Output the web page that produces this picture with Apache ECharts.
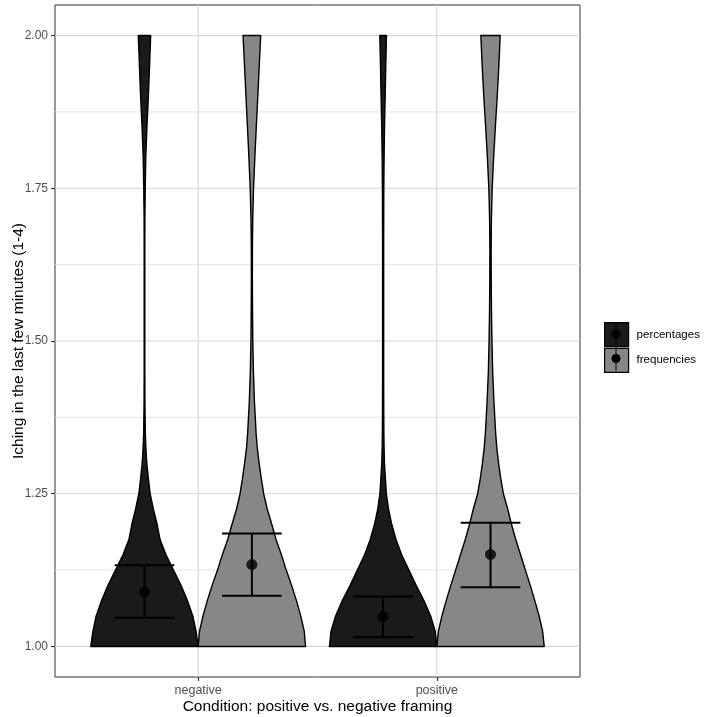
<!DOCTYPE html>
<html>
<head>
<meta charset="utf-8">
<script src="https://cdn.jsdelivr.net/npm/echarts@6.0.0/dist/echarts.min.js"></script>
<style>
  html, body { margin: 0; padding: 0; background: #fff; }
  #main { width: 709px; height: 717px; }
</style>
</head>
<body>
<div id="main"></div>
<script>
// categories
var conditions = ['negative', 'positive'];
var groups = ['percentages', 'frequencies'];
var fills = ['#1a1a1a', '#878787'];

// y levels where the violin width was read (item scale)
var densityY = [1.000, 1.025, 1.050, 1.075, 1.100, 1.125, 1.150, 1.175, 1.200, 1.225,
                1.250, 1.275, 1.300, 1.325, 1.350, 1.400, 1.450, 1.500, 1.550, 1.600,
                1.650, 1.700, 1.750, 1.800, 1.850, 1.900, 1.950, 2.000];
// relative half widths (1 = widest violin)
var densNegPct  = [1.00, 0.96, 0.90, 0.80, 0.68, 0.54, 0.40, 0.29, 0.235, 0.165,
                   0.105, 0.072, 0.043, 0.026, 0.015, 0.008, 0.006, 0.006, 0.006, 0.006,
                   0.006, 0.007, 0.014, 0.024, 0.045, 0.072, 0.094, 0.115];
var densNegFreq = [1.00, 0.975, 0.91, 0.83, 0.74, 0.64, 0.55, 0.45, 0.37, 0.285,
                   0.22, 0.175, 0.135, 0.10, 0.078, 0.048, 0.029, 0.017, 0.012, 0.009,
                   0.010, 0.016, 0.031, 0.055, 0.082, 0.110, 0.137, 0.164];
var densPosPct  = [1.00, 0.97, 0.885, 0.76, 0.615, 0.48, 0.345, 0.24, 0.16, 0.10,
                   0.06, 0.042, 0.025, 0.018, 0.014, 0.011, 0.010, 0.010, 0.010, 0.010,
                   0.010, 0.011, 0.013, 0.018, 0.026, 0.038, 0.049, 0.062];
var densPosFreq = [1.00, 0.97, 0.905, 0.825, 0.74, 0.65, 0.56, 0.47, 0.39, 0.32,
                   0.24, 0.19, 0.15, 0.117, 0.095, 0.064, 0.040, 0.027, 0.018, 0.013,
                   0.012, 0.017, 0.031, 0.058, 0.090, 0.125, 0.155, 0.180];

// means and error bars, one value per condition
var meanPct  = [1.0895, 1.0486];
var lowPct   = [1.047, 1.0152];
var highPct  = [1.133, 1.0818];
var meanFreq = [1.134, 1.1506];
var lowFreq  = [1.083, 1.097];
var highFreq = [1.185, 1.2025];

// axis ticks
var yMajor = [1.00, 1.25, 1.50, 1.75, 2.00];
var yMinor = [1.125, 1.375, 1.625, 1.875];
var xTicks = [1, 2];

var halfMax = 0.225;   // violin half width (x units)
var dodge = 0.225;     // dodge offset
var capHalf = 0.125;   // error bar cap half width

var chart = echarts.init(document.getElementById('main'));
var FONT = '"Liberation Sans", Arial, Helvetica, sans-serif';

//网格线
var gridRender = function (params, api) {
	var cs = params.coordSys;
	var kind = api.value(0), v = api.value(1);
	if (kind === 2) {
		var px = api.coord([v, 1.5])[0];
		return {type: 'line', shape: {x1: px, y1: cs.y, x2: px, y2: cs.y + cs.height},
			style: {stroke: '#d6d6d6', lineWidth: 1.2}, silent: true};
	}
	var py = api.coord([1, v])[1];
	return {type: 'line', shape: {x1: cs.x, y1: py, x2: cs.x + cs.width, y2: py},
		style: {stroke: kind === 0 ? '#d6d6d6' : '#e1e1e1', lineWidth: kind === 0 ? 1.2 : 0.9}, silent: true};
};
var gridData = [];
yMajor.forEach(function (v) { gridData.push([0, v]); });
yMinor.forEach(function (v) { gridData.push([1, v]); });
xTicks.forEach(function (v) { gridData.push([2, v]); });

//小提琴图
var violinRender = function (profiles, offset) {
	return function (params, api) {
		var cx = api.value(0) + offset;
		var dens = profiles[api.value(0) - 1];
		var pts = [];
		for (var i = 0; i < densityY.length; i++) pts.push(api.coord([cx + dens[i] * halfMax, densityY[i]]));
		for (var j = densityY.length - 1; j >= 0; j--) pts.push(api.coord([cx - dens[j] * halfMax, densityY[j]]));
		return {type: 'polygon', shape: {points: pts},
			style: {fill: api.visual('color'), stroke: '#000', lineWidth: 1.4, lineJoin: 'round'}};
	};
};

//误差线
var errRender = function (offset) {
	return function (params, api) {
		var cx = api.value(0) + offset;
		var lo = api.value(1), hi = api.value(2);
		var a = api.coord([cx, lo]), b = api.coord([cx, hi]);
		var l1 = api.coord([cx - capHalf, lo]), r1 = api.coord([cx + capHalf, lo]);
		var l2 = api.coord([cx - capHalf, hi]), r2 = api.coord([cx + capHalf, hi]);
		var st = {stroke: '#000', lineWidth: 2};
		return {type: 'group', children: [
			{type: 'line', shape: {x1: a[0], y1: a[1], x2: b[0], y2: b[1]}, style: st},
			{type: 'line', shape: {x1: l1[0], y1: l1[1], x2: r1[0], y2: r1[1]}, style: st},
			{type: 'line', shape: {x1: l2[0], y1: l2[1], x2: r2[0], y2: r2[1]}, style: st}
		]};
	};
};

var pctErr = [], freqErr = [], pctMean = [], freqMean = [];
for (var k = 0; k < conditions.length; k++) {
	pctErr.push([xTicks[k], lowPct[k], highPct[k]]);
	freqErr.push([xTicks[k], lowFreq[k], highFreq[k]]);
	pctMean.push([xTicks[k] - dodge, meanPct[k]]);
	freqMean.push([xTicks[k] + dodge, meanFreq[k]]);
}

var option = {
	animation: false,
	grid: {left: 55, right: 129, top: 5, bottom: 40, show: true, borderColor: '#333', borderWidth: 1,
		backgroundColor: 'transparent', containLabel: false, outerBoundsMode: 'none'},
	legend: {
		orient: 'vertical', left: 604, top: 322, padding: 0, itemWidth: 24, itemHeight: 24, itemGap: 0.5,
		data: [{name: groups[0], icon: 'rect'}, {name: groups[1], icon: 'rect'}],
		itemStyle: {borderColor: '#000', borderWidth: 1.2},
		textStyle: {fontFamily: FONT, fontSize: 11.5, color: '#000', padding: [0, 0, 0, 3]},
		selectedMode: false
	},
	graphic: [
		{type: 'line', shape: {x1: 616, y1: 322, x2: 616, y2: 346}, style: {stroke: '#000', lineWidth: 1}, z: 100},
		{type: 'circle', shape: {cx: 616, cy: 334, r: 4.5}, style: {fill: '#000'}, z: 100},
		{type: 'line', shape: {x1: 616, y1: 346.5, x2: 616, y2: 370.5}, style: {stroke: '#000', lineWidth: 1}, z: 100},
		{type: 'circle', shape: {cx: 616, cy: 358.5, r: 4.5}, style: {fill: '#000'}, z: 100}
	],
	xAxis: {
		type: 'value', min: 0.4, max: 2.6,
		name: 'Condition: positive vs. negative framing', nameLocation: 'middle', nameGap: 22,
		nameMoveOverlap: false,
		nameTextStyle: {fontFamily: FONT, fontSize: 15.5, color: '#000'},
		axisLine: {show: false},
		axisTick: {show: true, customValues: xTicks, length: 4, lineStyle: {color: '#333', width: 1.2}},
		axisLabel: {customValues: xTicks, margin: 7, fontFamily: FONT, fontSize: 12.5, color: '#4d4d4d',
			formatter: function (v) { return conditions[Math.round(v) - 1]; }},
		splitLine: {show: false}
	},
	yAxis: {
		type: 'value', min: 0.95, max: 2.05,
		name: 'Iching in the last few minutes (1-4)', nameLocation: 'middle', nameGap: 28,
		nameMoveOverlap: false,
		nameTextStyle: {fontFamily: FONT, fontSize: 15.5, color: '#000'},
		axisLine: {show: false},
		axisTick: {show: true, customValues: yMajor, length: 4, lineStyle: {color: '#333', width: 1.2}},
		axisLabel: {customValues: yMajor, margin: 7, fontFamily: FONT, fontSize: 12, color: '#4d4d4d',
			formatter: function (v) { return v.toFixed(2); }},
		splitLine: {show: false}
	},
	series: [
		{type: 'custom', name: 'grid', silent: true, z: 1, renderItem: gridRender, data: gridData},
		{type: 'custom', name: groups[0], z: 2, itemStyle: {color: fills[0]},
			renderItem: violinRender([densNegPct, densPosPct], -dodge), data: [[1], [2]]},
		{type: 'custom', name: groups[1], z: 2, itemStyle: {color: fills[1]},
			renderItem: violinRender([densNegFreq, densPosFreq], dodge), data: [[1], [2]]},
		{type: 'custom', name: groups[0], z: 3, renderItem: errRender(-dodge), data: pctErr},
		{type: 'custom', name: groups[1], z: 3, renderItem: errRender(dodge), data: freqErr},
		{type: 'scatter', name: groups[0], z: 4, symbolSize: 11, itemStyle: {color: '#000'}, data: pctMean},
		{type: 'scatter', name: groups[1], z: 4, symbolSize: 11, itemStyle: {color: '#000'}, data: freqMean}
	]
};
chart.setOption(option);
</script>
</body>
</html>
